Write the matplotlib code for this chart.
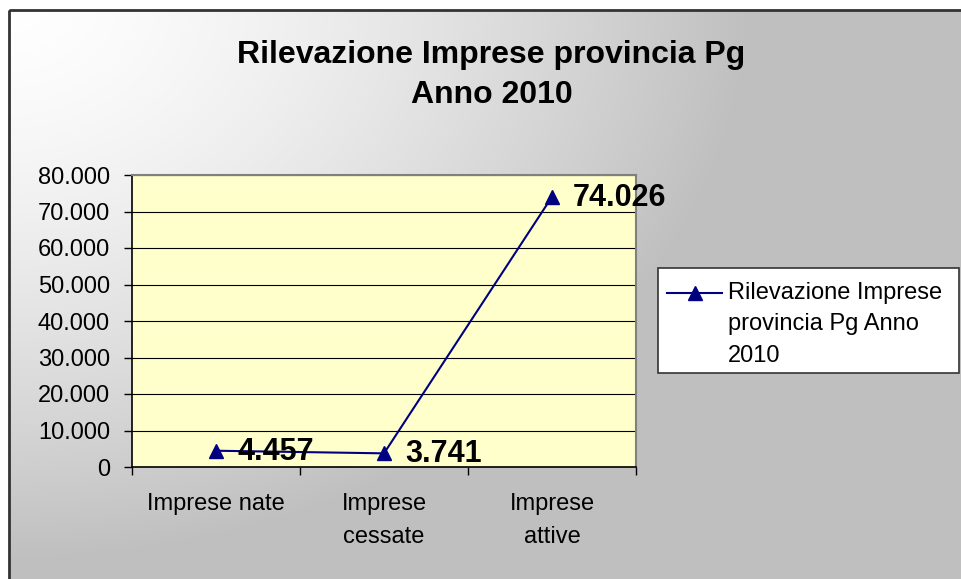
import matplotlib
matplotlib.use("Agg")
import matplotlib.pyplot as plt
import matplotlib.ticker as mticker
from matplotlib.lines import Line2D
from matplotlib.patches import Rectangle
import numpy as np

plt.rcParams["font.family"] = ["Liberation Sans", "DejaVu Sans"]

# Data
CATEGORIES = ["Imprese nate", "Imprese\ncessate", "Imprese\nattive"]
VALUES     = [4457, 3741, 74026]
Y_TICKS    = [0, 10000, 20000, 30000, 40000, 50000, 60000, 70000, 80000]
TITLE      = ["Rilevazione Imprese provincia Pg", "Anno 2010"]
SERIES     = "Rilevazione Imprese\nprovincia Pg Anno\n2010"

NAVY   = "#000080"
W, H   = 961, 579

fig = plt.figure(figsize=(W / 100, H / 100), dpi=100)

# Chart-area background: white corner fading to grey, framed by a dark border
bg = fig.add_axes([0, 0, 1, 1], zorder=-10)
yy, xx = np.mgrid[0:H, 0:W]
t = np.clip(np.sqrt((xx / 750.0) ** 2 + (yy / 560.0) ** 2), 0, 1) ** 1.5
g = 1.0 - 0.25 * t
g[:10, :] = 1.0
g[:, :9] = 1.0
bg.imshow(np.dstack([g, g, g]), extent=(0, W, H, 0), aspect="auto",
          interpolation="bilinear")
bg.add_patch(Rectangle((9, 10), W + 20, H + 20, fill=False,
                       edgecolor="#333333", linewidth=2))
bg.set_xlim(0, W)
bg.set_ylim(H, 0)
bg.axis("off")

# Plot area
ax = fig.add_axes([132 / W, 1 - 467 / H, (636 - 132) / W, (467 - 175) / H])
ax.set_facecolor("#FFFFCC")
x = np.arange(len(VALUES))
ax.plot(x, VALUES, color=NAVY, linewidth=1.5, marker="^", markersize=10,
        markerfacecolor=NAVY, markeredgecolor=NAVY, zorder=3)

for xi, v in zip(x, VALUES):
    ax.annotate(f"{v:,}".replace(",", "."), (xi, v), xytext=(21, -1),
                textcoords="offset pixels", ha="left", va="center",
                fontsize=22, fontweight="bold", color="black",
                annotation_clip=False, zorder=4)

ax.set_xlim(-0.5, len(VALUES) - 0.5)
ax.set_ylim(Y_TICKS[0], Y_TICKS[-1])
ax.set_yticks(Y_TICKS)
ax.yaxis.set_major_formatter(
    mticker.FuncFormatter(lambda v, _: f"{int(v):,}".replace(",", ".")))
ax.grid(axis="y", color="black", linewidth=0.8)
ax.set_axisbelow(True)

ax.set_xticks(np.arange(len(VALUES) + 1) - 0.5)
ax.set_xticklabels([])
ax.set_xticks(x, minor=True)
ax.set_xticklabels(CATEGORIES, minor=True)
ax.tick_params(axis="x", which="major", direction="out", length=5.8,
               width=1, color="black")
ax.tick_params(axis="x", which="minor", length=0, pad=19, labelsize=17)
ax.tick_params(axis="y", direction="out", length=5.8, width=1, pad=10,
               labelsize=17, color="black")
for lbl in ax.get_xticklabels(minor=True):
    lbl.set_verticalalignment("top")
    lbl.set_linespacing(1.6)

for side in ("top", "right"):
    ax.spines[side].set_color("#808080")
    ax.spines[side].set_linewidth(1.5)
for side in ("left", "bottom"):
    ax.spines[side].set_color("black")
    ax.spines[side].set_linewidth(1.2)

# Title
fig.text(491 / W, 1 - 55 / H, TITLE[0], ha="center", va="center",
         fontsize=23, fontweight="bold")
fig.text(492 / W, 1 - 95 / H, TITLE[1], ha="center", va="center",
         fontsize=23, fontweight="bold")

# Legend box (drawn by hand so the key sits on the first text line)
bg.add_patch(Rectangle((658, 268), 301, 105, facecolor="white",
                       edgecolor="#333333", linewidth=1.2, zorder=5))
bg.add_line(Line2D([667, 722], [293, 293], color=NAVY, linewidth=1.5,
                   zorder=6))
bg.add_line(Line2D([695], [293], color=NAVY, marker="^", markersize=10,
                   linestyle="none", zorder=6))
bg.text(728, 282, SERIES, ha="left", va="top", fontsize=17,
        linespacing=1.55, zorder=6)

fig.savefig("out.png", dpi=100)
